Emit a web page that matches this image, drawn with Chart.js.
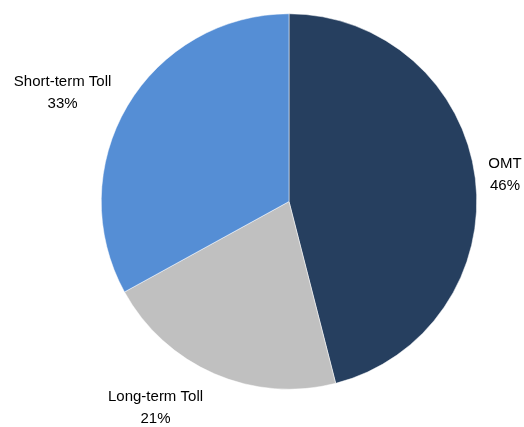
<!DOCTYPE html>
<html>
<head>
<meta charset="utf-8">
<script src="https://cdn.jsdelivr.net/npm/chart.js@4/dist/chart.umd.min.js"></script>
<style>
  html, body { margin: 0; padding: 0; background: #fff; }
  #wrap { width: 524px; height: 427px; }
</style>
</head>
<body>
<div id="wrap"><canvas id="pie-chart" width="524" height="427"></canvas></div>
<script>
const gLabels = ['OMT', 'Long-term Toll', 'Short-term Toll'];
const gValues = [46, 21, 33];
const gColors = ['#263f5f', '#c0c0c0', '#558ed5'];

// label nudges (px) relative to the point just outside each slice
const gLabelNudge = [[0, 1], [-47, 7], [-39, 2]];

// draw outside labels next to each arc
const outsideLabels = {
  id: 'outsideLabels',
  afterDatasetsDraw(chart) {
    const ctx = chart.ctx;
    const meta = chart.getDatasetMeta(0);
    ctx.save();
    ctx.font = '15px "Liberation Sans", Arial, sans-serif';
    ctx.fillStyle = '#000';
    ctx.textAlign = 'center';
    ctx.textBaseline = 'middle';
    meta.data.forEach((arc, i) => {
      const p = arc.getProps(['x', 'y', 'startAngle', 'endAngle', 'outerRadius'], true);
      const mid = (p.startAngle + p.endAngle) / 2;
      const r = p.outerRadius + 30;
      const x = p.x + Math.cos(mid) * r + gLabelNudge[i][0];
      const y = p.y + Math.sin(mid) * r + gLabelNudge[i][1];
      ctx.fillText(gLabels[i], x, y - 11);
      ctx.fillText(gValues[i] + '%', x, y + 11);
    });
    ctx.restore();
  }
};

new Chart(document.getElementById('pie-chart'), {
  type: 'pie',
  data: {
    labels: gLabels,
    datasets: [{
      data: gValues,
      backgroundColor: gColors,
      borderColor: '#ffffff',
      borderWidth: 0.5
    }]
  },
  options: {
    responsive: false,
    animation: false,
    layout: { padding: { top: 13, bottom: 37, left: 101, right: 47 } },
    plugins: {
      legend: { display: false },
      tooltip: { enabled: false }
    }
  },
  plugins: [outsideLabels]
});
</script>
</body>
</html>
